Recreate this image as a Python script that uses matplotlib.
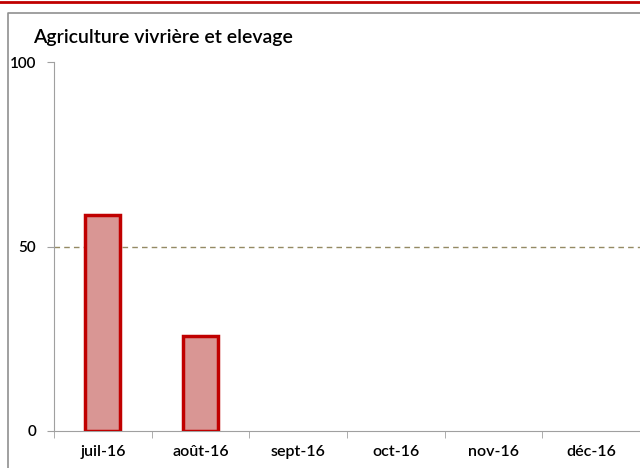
import numpy as np
import matplotlib.pyplot as plt
from matplotlib.lines import Line2D

# monthly values (%)
months = ['juil-16', 'août-16', 'sept-16', 'oct-16', 'nov-16', 'déc-16']
values = [58.5, 25.7, 0, 0, 0, 0]
seuil = 50

plt.rcParams['font.family'] = ['Lato', 'DejaVu Sans']

fig = plt.figure(figsize=(6.4, 4.68), dpi=100)
ax = fig.add_axes([54 / 640, 1 - 431 / 468, 586 / 640, 369 / 468])

x = np.arange(len(months))
shown = [v if v > 0 else np.nan for v in values]
ax.bar(x, shown, width=0.36, color='#d99694', edgecolor='#c00000', linewidth=2.5, zorder=3)
ax.axhline(seuil, color='#948a64', linestyle=(0, (4, 3)), linewidth=1, zorder=2)

ax.set_xlim(-0.5, len(months) - 0.5)
ax.set_ylim(0, 100)
ax.set_yticks([0, 50, 100])
ax.set_yticklabels(['0', '50', '100'], fontsize=11, fontweight='semibold')
ax.set_xticks(x)
ax.set_xticklabels(months, fontsize=11.5, fontweight='semibold')
ax.set_xticks(np.arange(len(months) + 1) - 0.5, minor=True)
ax.tick_params(axis='x', which='major', length=0, pad=10)
ax.tick_params(axis='x', which='minor', length=5, color='#a0a0a0')
ax.tick_params(axis='y', length=5, color='#a0a0a0', pad=8)

for s in ['top', 'right']:
    ax.spines[s].set_visible(False)
for s in ['left', 'bottom']:
    ax.spines[s].set_color('#a0a0a0')

fig.text(33 / 640, 1 - 37 / 468, 'Agriculture vivrière et elevage', fontsize=14,
         fontweight='semibold', va='center', ha='left')

# page decorations: red rule and grey frame
fig.add_artist(Line2D([0, 1], [1 - 2 / 468, 1 - 2 / 468], color='#c00000', linewidth=2))
fig.add_artist(Line2D([8 / 640, 8 / 640, 1], [0, 1 - 13 / 468, 1 - 13 / 468],
                      color='#909090', linewidth=1.2))

fig.savefig('out.png', dpi=100)
